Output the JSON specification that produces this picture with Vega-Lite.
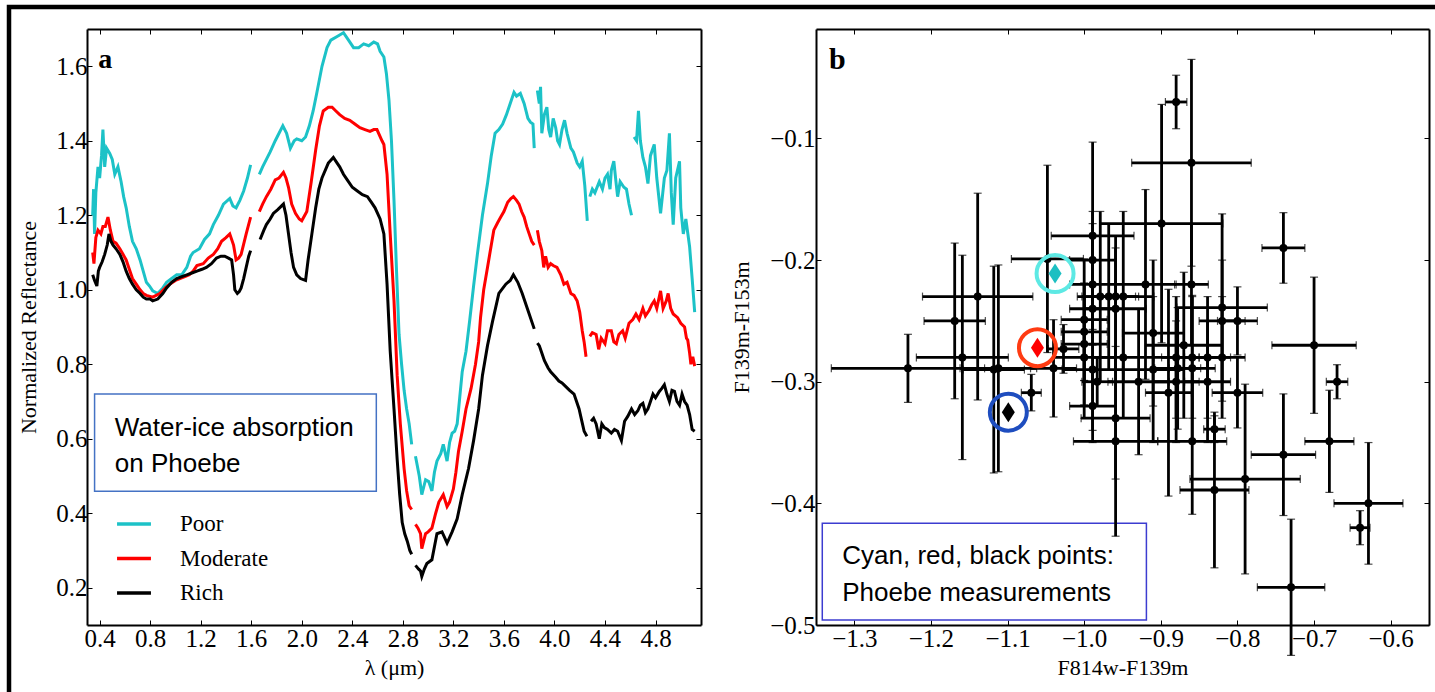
{
"$schema":"https://vega.github.io/schema/vega-lite/v6.json",
"width":1426,"height":685,
"autosize":{"type":"none"},
"padding":{"left":9,"top":7,"right":0,"bottom":0},
"background":"white",
"config":{
 "view":{"stroke":"black","strokeWidth":4.5,"strokeDash":[1426,2111,685]},
 "axis":{"labelFont":"Liberation Serif","labelFontSize":25,"labelColor":"black","titleFont":"Liberation Serif","titleFontSize":22,"titleFontWeight":"normal","titleColor":"black","domainColor":"black","domainWidth":2,"tickColor":"black","tickWidth":1,"tickSize":-5,"grid":false,"labelFlush":false,"labelOverlap":false},
 "legend":{"labelFont":"Liberation Serif","labelFontSize":23,"labelColor":"black"}
},
"datasets":{
"spectra":[
{"sample":"Poor","seg":1,"wl":0.345,"refl":1.20},{"sample":"Poor","seg":1,"wl":0.352,"refl":1.27},{"sample":"Poor","seg":1,"wl":0.36,"refl":1.15},{"sample":"Poor","seg":1,"wl":0.37,"refl":1.26},{"sample":"Poor","seg":1,"wl":0.387,"refl":1.33},{"sample":"Poor","seg":1,"wl":0.40,"refl":1.30},{"sample":"Poor","seg":1,"wl":0.415,"refl":1.36},{"sample":"Poor","seg":1,"wl":0.426,"refl":1.43},{"sample":"Poor","seg":1,"wl":0.44,"refl":1.33},{"sample":"Poor","seg":1,"wl":0.455,"refl":1.38},{"sample":"Poor","seg":1,"wl":0.48,"refl":1.366},{"sample":"Poor","seg":1,"wl":0.50,"refl":1.35},{"sample":"Poor","seg":1,"wl":0.52,"refl":1.31},{"sample":"Poor","seg":1,"wl":0.545,"refl":1.33},{"sample":"Poor","seg":1,"wl":0.57,"refl":1.29},{"sample":"Poor","seg":1,"wl":0.59,"refl":1.25},{"sample":"Poor","seg":1,"wl":0.61,"refl":1.22},{"sample":"Poor","seg":1,"wl":0.635,"refl":1.17},{"sample":"Poor","seg":1,"wl":0.66,"refl":1.13},{"sample":"Poor","seg":1,"wl":0.69,"refl":1.11},{"sample":"Poor","seg":1,"wl":0.72,"refl":1.08},{"sample":"Poor","seg":1,"wl":0.745,"refl":1.05},{"sample":"Poor","seg":1,"wl":0.77,"refl":1.02},{"sample":"Poor","seg":1,"wl":0.795,"refl":1.01},{"sample":"Poor","seg":1,"wl":0.82,"refl":0.997},{"sample":"Poor","seg":1,"wl":0.86,"refl":0.99},{"sample":"Poor","seg":1,"wl":0.90,"refl":1.005},{"sample":"Poor","seg":1,"wl":0.93,"refl":1.02},{"sample":"Poor","seg":1,"wl":0.97,"refl":1.03},{"sample":"Poor","seg":1,"wl":1.01,"refl":1.04},{"sample":"Poor","seg":1,"wl":1.05,"refl":1.04},{"sample":"Poor","seg":1,"wl":1.09,"refl":1.06},{"sample":"Poor","seg":1,"wl":1.12,"refl":1.09},{"sample":"Poor","seg":1,"wl":1.14,"refl":1.10},{"sample":"Poor","seg":1,"wl":1.19,"refl":1.11},{"sample":"Poor","seg":1,"wl":1.23,"refl":1.135},{"sample":"Poor","seg":1,"wl":1.27,"refl":1.15},{"sample":"Poor","seg":1,"wl":1.30,"refl":1.175},{"sample":"Poor","seg":1,"wl":1.34,"refl":1.20},{"sample":"Poor","seg":1,"wl":1.38,"refl":1.23},{"sample":"Poor","seg":1,"wl":1.43,"refl":1.245},{"sample":"Poor","seg":1,"wl":1.455,"refl":1.225},{"sample":"Poor","seg":1,"wl":1.48,"refl":1.22},{"sample":"Poor","seg":1,"wl":1.51,"refl":1.24},{"sample":"Poor","seg":1,"wl":1.54,"refl":1.265},{"sample":"Poor","seg":1,"wl":1.57,"refl":1.30},{"sample":"Poor","seg":1,"wl":1.595,"refl":1.335},
{"sample":"Poor","seg":2,"wl":1.664,"refl":1.31},{"sample":"Poor","seg":2,"wl":1.69,"refl":1.33},{"sample":"Poor","seg":2,"wl":1.72,"refl":1.35},{"sample":"Poor","seg":2,"wl":1.75,"refl":1.37},{"sample":"Poor","seg":2,"wl":1.79,"refl":1.40},{"sample":"Poor","seg":2,"wl":1.82,"refl":1.42},{"sample":"Poor","seg":2,"wl":1.85,"refl":1.44},{"sample":"Poor","seg":2,"wl":1.88,"refl":1.42},{"sample":"Poor","seg":2,"wl":1.91,"refl":1.38},{"sample":"Poor","seg":2,"wl":1.94,"refl":1.40},{"sample":"Poor","seg":2,"wl":1.96,"refl":1.405},{"sample":"Poor","seg":2,"wl":2.00,"refl":1.40},{"sample":"Poor","seg":2,"wl":2.03,"refl":1.41},{"sample":"Poor","seg":2,"wl":2.06,"refl":1.44},{"sample":"Poor","seg":2,"wl":2.09,"refl":1.48},{"sample":"Poor","seg":2,"wl":2.12,"refl":1.53},{"sample":"Poor","seg":2,"wl":2.16,"refl":1.60},{"sample":"Poor","seg":2,"wl":2.20,"refl":1.65},{"sample":"Poor","seg":2,"wl":2.23,"refl":1.67},{"sample":"Poor","seg":2,"wl":2.28,"refl":1.68},{"sample":"Poor","seg":2,"wl":2.33,"refl":1.69},{"sample":"Poor","seg":2,"wl":2.37,"refl":1.67},{"sample":"Poor","seg":2,"wl":2.41,"refl":1.65},{"sample":"Poor","seg":2,"wl":2.45,"refl":1.65},{"sample":"Poor","seg":2,"wl":2.49,"refl":1.66},{"sample":"Poor","seg":2,"wl":2.53,"refl":1.655},{"sample":"Poor","seg":2,"wl":2.57,"refl":1.665},{"sample":"Poor","seg":2,"wl":2.60,"refl":1.66},{"sample":"Poor","seg":2,"wl":2.62,"refl":1.64},{"sample":"Poor","seg":2,"wl":2.65,"refl":1.625},{"sample":"Poor","seg":2,"wl":2.67,"refl":1.58},{"sample":"Poor","seg":2,"wl":2.69,"refl":1.51},{"sample":"Poor","seg":2,"wl":2.71,"refl":1.40},{"sample":"Poor","seg":2,"wl":2.73,"refl":1.24},{"sample":"Poor","seg":2,"wl":2.75,"refl":1.05},{"sample":"Poor","seg":2,"wl":2.77,"refl":0.88},{"sample":"Poor","seg":2,"wl":2.79,"refl":0.80},{"sample":"Poor","seg":2,"wl":2.81,"refl":0.73},{"sample":"Poor","seg":2,"wl":2.83,"refl":0.68},{"sample":"Poor","seg":2,"wl":2.85,"refl":0.64},{"sample":"Poor","seg":2,"wl":2.87,"refl":0.585},
{"sample":"Poor","seg":3,"wl":2.90,"refl":0.553},{"sample":"Poor","seg":3,"wl":2.93,"refl":0.50},{"sample":"Poor","seg":3,"wl":2.95,"refl":0.45},{"sample":"Poor","seg":3,"wl":2.98,"refl":0.49},{"sample":"Poor","seg":3,"wl":3.005,"refl":0.485},{"sample":"Poor","seg":3,"wl":3.03,"refl":0.46},{"sample":"Poor","seg":3,"wl":3.05,"refl":0.51},{"sample":"Poor","seg":3,"wl":3.07,"refl":0.54},{"sample":"Poor","seg":3,"wl":3.10,"refl":0.56},{"sample":"Poor","seg":3,"wl":3.12,"refl":0.585},{"sample":"Poor","seg":3,"wl":3.15,"refl":0.54},{"sample":"Poor","seg":3,"wl":3.17,"refl":0.59},{"sample":"Poor","seg":3,"wl":3.19,"refl":0.615},{"sample":"Poor","seg":3,"wl":3.21,"refl":0.62},{"sample":"Poor","seg":3,"wl":3.23,"refl":0.64},{"sample":"Poor","seg":3,"wl":3.25,"refl":0.71},{"sample":"Poor","seg":3,"wl":3.27,"refl":0.78},{"sample":"Poor","seg":3,"wl":3.30,"refl":0.835},{"sample":"Poor","seg":3,"wl":3.33,"refl":0.92},{"sample":"Poor","seg":3,"wl":3.36,"refl":1.01},{"sample":"Poor","seg":3,"wl":3.39,"refl":1.095},{"sample":"Poor","seg":3,"wl":3.43,"refl":1.20},{"sample":"Poor","seg":3,"wl":3.47,"refl":1.285},{"sample":"Poor","seg":3,"wl":3.50,"refl":1.36},{"sample":"Poor","seg":3,"wl":3.53,"refl":1.42},{"sample":"Poor","seg":3,"wl":3.56,"refl":1.43},{"sample":"Poor","seg":3,"wl":3.59,"refl":1.445},{"sample":"Poor","seg":3,"wl":3.62,"refl":1.47},{"sample":"Poor","seg":3,"wl":3.64,"refl":1.49},{"sample":"Poor","seg":3,"wl":3.66,"refl":1.51},{"sample":"Poor","seg":3,"wl":3.68,"refl":1.53},{"sample":"Poor","seg":3,"wl":3.70,"refl":1.52},{"sample":"Poor","seg":3,"wl":3.73,"refl":1.527},{"sample":"Poor","seg":3,"wl":3.76,"refl":1.50},{"sample":"Poor","seg":3,"wl":3.79,"refl":1.46},{"sample":"Poor","seg":3,"wl":3.81,"refl":1.45},{"sample":"Poor","seg":3,"wl":3.83,"refl":1.445},{"sample":"Poor","seg":3,"wl":3.84,"refl":1.38},
{"sample":"Poor","seg":4,"wl":3.865,"refl":1.535},{"sample":"Poor","seg":4,"wl":3.88,"refl":1.50},{"sample":"Poor","seg":4,"wl":3.89,"refl":1.545},{"sample":"Poor","seg":4,"wl":3.90,"refl":1.42},{"sample":"Poor","seg":4,"wl":3.92,"refl":1.47},{"sample":"Poor","seg":4,"wl":3.94,"refl":1.49},{"sample":"Poor","seg":4,"wl":3.955,"refl":1.43},{"sample":"Poor","seg":4,"wl":3.97,"refl":1.41},{"sample":"Poor","seg":4,"wl":3.99,"refl":1.46},{"sample":"Poor","seg":4,"wl":4.01,"refl":1.435},{"sample":"Poor","seg":4,"wl":4.025,"refl":1.40},{"sample":"Poor","seg":4,"wl":4.04,"refl":1.39},{"sample":"Poor","seg":4,"wl":4.06,"refl":1.43},{"sample":"Poor","seg":4,"wl":4.08,"refl":1.455},{"sample":"Poor","seg":4,"wl":4.10,"refl":1.42},{"sample":"Poor","seg":4,"wl":4.13,"refl":1.38},{"sample":"Poor","seg":4,"wl":4.15,"refl":1.37},{"sample":"Poor","seg":4,"wl":4.18,"refl":1.34},{"sample":"Poor","seg":4,"wl":4.20,"refl":1.33},{"sample":"Poor","seg":4,"wl":4.22,"refl":1.345},{"sample":"Poor","seg":4,"wl":4.24,"refl":1.28},{"sample":"Poor","seg":4,"wl":4.26,"refl":1.185},
{"sample":"Poor","seg":5,"wl":4.28,"refl":1.25},{"sample":"Poor","seg":5,"wl":4.30,"refl":1.27},{"sample":"Poor","seg":5,"wl":4.32,"refl":1.26},{"sample":"Poor","seg":5,"wl":4.355,"refl":1.29},{"sample":"Poor","seg":5,"wl":4.38,"refl":1.27},{"sample":"Poor","seg":5,"wl":4.40,"refl":1.30},{"sample":"Poor","seg":5,"wl":4.42,"refl":1.31},{"sample":"Poor","seg":5,"wl":4.44,"refl":1.27},{"sample":"Poor","seg":5,"wl":4.45,"refl":1.32},{"sample":"Poor","seg":5,"wl":4.47,"refl":1.345},{"sample":"Poor","seg":5,"wl":4.49,"refl":1.28},{"sample":"Poor","seg":5,"wl":4.50,"refl":1.25},{"sample":"Poor","seg":5,"wl":4.52,"refl":1.29},{"sample":"Poor","seg":5,"wl":4.55,"refl":1.275},{"sample":"Poor","seg":5,"wl":4.57,"refl":1.27},{"sample":"Poor","seg":5,"wl":4.59,"refl":1.23},{"sample":"Poor","seg":5,"wl":4.61,"refl":1.20},
{"sample":"Poor","seg":6,"wl":4.63,"refl":1.41},{"sample":"Poor","seg":6,"wl":4.65,"refl":1.40},{"sample":"Poor","seg":6,"wl":4.665,"refl":1.48},{"sample":"Poor","seg":6,"wl":4.68,"refl":1.40},{"sample":"Poor","seg":6,"wl":4.70,"refl":1.355},{"sample":"Poor","seg":6,"wl":4.72,"refl":1.33},{"sample":"Poor","seg":6,"wl":4.74,"refl":1.285},{"sample":"Poor","seg":6,"wl":4.76,"refl":1.36},{"sample":"Poor","seg":6,"wl":4.79,"refl":1.39},{"sample":"Poor","seg":6,"wl":4.81,"refl":1.30},{"sample":"Poor","seg":6,"wl":4.84,"refl":1.205},{"sample":"Poor","seg":6,"wl":4.87,"refl":1.30},{"sample":"Poor","seg":6,"wl":4.89,"refl":1.32},{"sample":"Poor","seg":6,"wl":4.91,"refl":1.42},{"sample":"Poor","seg":6,"wl":4.925,"refl":1.26},{"sample":"Poor","seg":6,"wl":4.94,"refl":1.175},{"sample":"Poor","seg":6,"wl":4.96,"refl":1.30},{"sample":"Poor","seg":6,"wl":4.99,"refl":1.345},{"sample":"Poor","seg":6,"wl":5.00,"refl":1.22},{"sample":"Poor","seg":6,"wl":5.02,"refl":1.15},{"sample":"Poor","seg":6,"wl":5.04,"refl":1.19},{"sample":"Poor","seg":6,"wl":5.07,"refl":1.115},{"sample":"Poor","seg":6,"wl":5.09,"refl":1.03},{"sample":"Poor","seg":6,"wl":5.11,"refl":0.94},
{"sample":"Moderate","seg":1,"wl":0.345,"refl":1.10},{"sample":"Moderate","seg":1,"wl":0.355,"refl":1.07},{"sample":"Moderate","seg":1,"wl":0.37,"refl":1.14},{"sample":"Moderate","seg":1,"wl":0.387,"refl":1.16},{"sample":"Moderate","seg":1,"wl":0.41,"refl":1.15},{"sample":"Moderate","seg":1,"wl":0.426,"refl":1.17},{"sample":"Moderate","seg":1,"wl":0.445,"refl":1.17},{"sample":"Moderate","seg":1,"wl":0.466,"refl":1.195},{"sample":"Moderate","seg":1,"wl":0.485,"refl":1.16},{"sample":"Moderate","seg":1,"wl":0.506,"refl":1.13},{"sample":"Moderate","seg":1,"wl":0.53,"refl":1.125},{"sample":"Moderate","seg":1,"wl":0.56,"refl":1.11},{"sample":"Moderate","seg":1,"wl":0.585,"refl":1.095},{"sample":"Moderate","seg":1,"wl":0.61,"refl":1.08},{"sample":"Moderate","seg":1,"wl":0.635,"refl":1.055},{"sample":"Moderate","seg":1,"wl":0.66,"refl":1.03},{"sample":"Moderate","seg":1,"wl":0.69,"refl":1.015},{"sample":"Moderate","seg":1,"wl":0.72,"refl":1.00},{"sample":"Moderate","seg":1,"wl":0.745,"refl":0.99},{"sample":"Moderate","seg":1,"wl":0.77,"refl":0.985},{"sample":"Moderate","seg":1,"wl":0.82,"refl":0.98},{"sample":"Moderate","seg":1,"wl":0.876,"refl":0.99},{"sample":"Moderate","seg":1,"wl":0.92,"refl":1.005},{"sample":"Moderate","seg":1,"wl":0.955,"refl":1.015},{"sample":"Moderate","seg":1,"wl":1.00,"refl":1.025},{"sample":"Moderate","seg":1,"wl":1.035,"refl":1.03},{"sample":"Moderate","seg":1,"wl":1.075,"refl":1.035},{"sample":"Moderate","seg":1,"wl":1.11,"refl":1.04},{"sample":"Moderate","seg":1,"wl":1.14,"refl":1.05},{"sample":"Moderate","seg":1,"wl":1.17,"refl":1.065},{"sample":"Moderate","seg":1,"wl":1.22,"refl":1.07},{"sample":"Moderate","seg":1,"wl":1.26,"refl":1.085},{"sample":"Moderate","seg":1,"wl":1.30,"refl":1.095},{"sample":"Moderate","seg":1,"wl":1.335,"refl":1.11},{"sample":"Moderate","seg":1,"wl":1.365,"refl":1.13},{"sample":"Moderate","seg":1,"wl":1.40,"refl":1.14},{"sample":"Moderate","seg":1,"wl":1.43,"refl":1.15},{"sample":"Moderate","seg":1,"wl":1.46,"refl":1.12},{"sample":"Moderate","seg":1,"wl":1.48,"refl":1.08},{"sample":"Moderate","seg":1,"wl":1.50,"refl":1.085},{"sample":"Moderate","seg":1,"wl":1.52,"refl":1.095},{"sample":"Moderate","seg":1,"wl":1.56,"refl":1.15},{"sample":"Moderate","seg":1,"wl":1.595,"refl":1.195},
{"sample":"Moderate","seg":2,"wl":1.664,"refl":1.21},{"sample":"Moderate","seg":2,"wl":1.69,"refl":1.23},{"sample":"Moderate","seg":2,"wl":1.72,"refl":1.25},{"sample":"Moderate","seg":2,"wl":1.755,"refl":1.27},{"sample":"Moderate","seg":2,"wl":1.79,"refl":1.295},{"sample":"Moderate","seg":2,"wl":1.82,"refl":1.30},{"sample":"Moderate","seg":2,"wl":1.855,"refl":1.315},{"sample":"Moderate","seg":2,"wl":1.875,"refl":1.30},{"sample":"Moderate","seg":2,"wl":1.895,"refl":1.275},{"sample":"Moderate","seg":2,"wl":1.92,"refl":1.23},{"sample":"Moderate","seg":2,"wl":1.95,"refl":1.205},{"sample":"Moderate","seg":2,"wl":1.98,"refl":1.19},{"sample":"Moderate","seg":2,"wl":2.00,"refl":1.185},{"sample":"Moderate","seg":2,"wl":2.04,"refl":1.21},{"sample":"Moderate","seg":2,"wl":2.075,"refl":1.29},{"sample":"Moderate","seg":2,"wl":2.11,"refl":1.375},{"sample":"Moderate","seg":2,"wl":2.14,"refl":1.44},{"sample":"Moderate","seg":2,"wl":2.17,"refl":1.48},{"sample":"Moderate","seg":2,"wl":2.21,"refl":1.49},{"sample":"Moderate","seg":2,"wl":2.24,"refl":1.49},{"sample":"Moderate","seg":2,"wl":2.27,"refl":1.48},{"sample":"Moderate","seg":2,"wl":2.30,"refl":1.47},{"sample":"Moderate","seg":2,"wl":2.34,"refl":1.46},{"sample":"Moderate","seg":2,"wl":2.38,"refl":1.455},{"sample":"Moderate","seg":2,"wl":2.42,"refl":1.445},{"sample":"Moderate","seg":2,"wl":2.46,"refl":1.435},{"sample":"Moderate","seg":2,"wl":2.50,"refl":1.43},{"sample":"Moderate","seg":2,"wl":2.54,"refl":1.425},{"sample":"Moderate","seg":2,"wl":2.57,"refl":1.43},{"sample":"Moderate","seg":2,"wl":2.595,"refl":1.43},{"sample":"Moderate","seg":2,"wl":2.635,"refl":1.40},{"sample":"Moderate","seg":2,"wl":2.65,"refl":1.39},{"sample":"Moderate","seg":2,"wl":2.675,"refl":1.31},{"sample":"Moderate","seg":2,"wl":2.70,"refl":1.15},{"sample":"Moderate","seg":2,"wl":2.73,"refl":0.97},{"sample":"Moderate","seg":2,"wl":2.755,"refl":0.77},{"sample":"Moderate","seg":2,"wl":2.78,"refl":0.64},{"sample":"Moderate","seg":2,"wl":2.81,"refl":0.52},{"sample":"Moderate","seg":2,"wl":2.83,"refl":0.46},{"sample":"Moderate","seg":2,"wl":2.85,"refl":0.42},{"sample":"Moderate","seg":2,"wl":2.87,"refl":0.41},
{"sample":"Moderate","seg":3,"wl":2.90,"refl":0.37},{"sample":"Moderate","seg":3,"wl":2.92,"refl":0.36},{"sample":"Moderate","seg":3,"wl":2.94,"refl":0.345},{"sample":"Moderate","seg":3,"wl":2.95,"refl":0.305},{"sample":"Moderate","seg":3,"wl":2.98,"refl":0.345},{"sample":"Moderate","seg":3,"wl":3.00,"refl":0.35},{"sample":"Moderate","seg":3,"wl":3.03,"refl":0.36},{"sample":"Moderate","seg":3,"wl":3.06,"refl":0.40},{"sample":"Moderate","seg":3,"wl":3.085,"refl":0.43},{"sample":"Moderate","seg":3,"wl":3.12,"refl":0.45},{"sample":"Moderate","seg":3,"wl":3.15,"refl":0.418},{"sample":"Moderate","seg":3,"wl":3.17,"refl":0.43},{"sample":"Moderate","seg":3,"wl":3.20,"refl":0.465},{"sample":"Moderate","seg":3,"wl":3.22,"refl":0.51},{"sample":"Moderate","seg":3,"wl":3.24,"refl":0.565},{"sample":"Moderate","seg":3,"wl":3.27,"refl":0.62},{"sample":"Moderate","seg":3,"wl":3.30,"refl":0.68},{"sample":"Moderate","seg":3,"wl":3.34,"refl":0.735},{"sample":"Moderate","seg":3,"wl":3.375,"refl":0.80},{"sample":"Moderate","seg":3,"wl":3.40,"refl":0.86},{"sample":"Moderate","seg":3,"wl":3.415,"refl":0.925},{"sample":"Moderate","seg":3,"wl":3.44,"refl":1.00},{"sample":"Moderate","seg":3,"wl":3.47,"refl":1.06},{"sample":"Moderate","seg":3,"wl":3.50,"refl":1.12},{"sample":"Moderate","seg":3,"wl":3.52,"refl":1.16},{"sample":"Moderate","seg":3,"wl":3.55,"refl":1.18},{"sample":"Moderate","seg":3,"wl":3.575,"refl":1.195},{"sample":"Moderate","seg":3,"wl":3.60,"refl":1.21},{"sample":"Moderate","seg":3,"wl":3.63,"refl":1.235},{"sample":"Moderate","seg":3,"wl":3.655,"refl":1.245},{"sample":"Moderate","seg":3,"wl":3.675,"refl":1.25},{"sample":"Moderate","seg":3,"wl":3.70,"refl":1.24},{"sample":"Moderate","seg":3,"wl":3.72,"refl":1.23},{"sample":"Moderate","seg":3,"wl":3.74,"refl":1.21},{"sample":"Moderate","seg":3,"wl":3.76,"refl":1.195},{"sample":"Moderate","seg":3,"wl":3.78,"refl":1.17},{"sample":"Moderate","seg":3,"wl":3.80,"refl":1.15},{"sample":"Moderate","seg":3,"wl":3.82,"refl":1.13},{"sample":"Moderate","seg":3,"wl":3.84,"refl":1.12},
{"sample":"Moderate","seg":4,"wl":3.865,"refl":1.16},{"sample":"Moderate","seg":4,"wl":3.88,"refl":1.13},{"sample":"Moderate","seg":4,"wl":3.90,"refl":1.105},{"sample":"Moderate","seg":4,"wl":3.915,"refl":1.06},{"sample":"Moderate","seg":4,"wl":3.93,"refl":1.09},{"sample":"Moderate","seg":4,"wl":3.95,"refl":1.06},{"sample":"Moderate","seg":4,"wl":3.97,"refl":1.07},{"sample":"Moderate","seg":4,"wl":3.99,"refl":1.065},{"sample":"Moderate","seg":4,"wl":4.02,"refl":1.06},{"sample":"Moderate","seg":4,"wl":4.05,"refl":1.04},{"sample":"Moderate","seg":4,"wl":4.075,"refl":1.015},{"sample":"Moderate","seg":4,"wl":4.10,"refl":1.02},{"sample":"Moderate","seg":4,"wl":4.13,"refl":0.99},{"sample":"Moderate","seg":4,"wl":4.155,"refl":0.985},{"sample":"Moderate","seg":4,"wl":4.18,"refl":0.97},{"sample":"Moderate","seg":4,"wl":4.20,"refl":0.94},{"sample":"Moderate","seg":4,"wl":4.22,"refl":0.89},{"sample":"Moderate","seg":4,"wl":4.235,"refl":0.86},{"sample":"Moderate","seg":4,"wl":4.25,"refl":0.82},
{"sample":"Moderate","seg":5,"wl":4.28,"refl":0.875},{"sample":"Moderate","seg":5,"wl":4.30,"refl":0.885},{"sample":"Moderate","seg":5,"wl":4.33,"refl":0.88},{"sample":"Moderate","seg":5,"wl":4.35,"refl":0.84},{"sample":"Moderate","seg":5,"wl":4.37,"refl":0.87},{"sample":"Moderate","seg":5,"wl":4.40,"refl":0.855},{"sample":"Moderate","seg":5,"wl":4.42,"refl":0.89},{"sample":"Moderate","seg":5,"wl":4.45,"refl":0.89},{"sample":"Moderate","seg":5,"wl":4.47,"refl":0.86},{"sample":"Moderate","seg":5,"wl":4.49,"refl":0.855},{"sample":"Moderate","seg":5,"wl":4.51,"refl":0.88},{"sample":"Moderate","seg":5,"wl":4.54,"refl":0.89},{"sample":"Moderate","seg":5,"wl":4.56,"refl":0.87},{"sample":"Moderate","seg":5,"wl":4.59,"refl":0.91},{"sample":"Moderate","seg":5,"wl":4.62,"refl":0.92},{"sample":"Moderate","seg":5,"wl":4.645,"refl":0.935},{"sample":"Moderate","seg":5,"wl":4.67,"refl":0.92},{"sample":"Moderate","seg":5,"wl":4.70,"refl":0.95},{"sample":"Moderate","seg":5,"wl":4.72,"refl":0.93},{"sample":"Moderate","seg":5,"wl":4.75,"refl":0.945},{"sample":"Moderate","seg":5,"wl":4.77,"refl":0.96},{"sample":"Moderate","seg":5,"wl":4.79,"refl":0.97},{"sample":"Moderate","seg":5,"wl":4.81,"refl":0.95},{"sample":"Moderate","seg":5,"wl":4.84,"refl":0.997},{"sample":"Moderate","seg":5,"wl":4.86,"refl":0.95},{"sample":"Moderate","seg":5,"wl":4.885,"refl":0.97},{"sample":"Moderate","seg":5,"wl":4.90,"refl":0.99},{"sample":"Moderate","seg":5,"wl":4.92,"refl":0.95},{"sample":"Moderate","seg":5,"wl":4.94,"refl":0.935},{"sample":"Moderate","seg":5,"wl":4.975,"refl":0.925},{"sample":"Moderate","seg":5,"wl":5.00,"refl":0.91},{"sample":"Moderate","seg":5,"wl":5.03,"refl":0.90},{"sample":"Moderate","seg":5,"wl":5.045,"refl":0.87},{"sample":"Moderate","seg":5,"wl":5.055,"refl":0.865},{"sample":"Moderate","seg":5,"wl":5.07,"refl":0.83},{"sample":"Moderate","seg":5,"wl":5.08,"refl":0.80},{"sample":"Moderate","seg":5,"wl":5.095,"refl":0.82},{"sample":"Moderate","seg":5,"wl":5.11,"refl":0.795},
{"sample":"Rich","seg":1,"wl":0.345,"refl":1.04},{"sample":"Rich","seg":1,"wl":0.36,"refl":1.025},{"sample":"Rich","seg":1,"wl":0.378,"refl":1.01},{"sample":"Rich","seg":1,"wl":0.39,"refl":1.05},{"sample":"Rich","seg":1,"wl":0.40,"refl":1.06},{"sample":"Rich","seg":1,"wl":0.42,"refl":1.075},{"sample":"Rich","seg":1,"wl":0.44,"refl":1.095},{"sample":"Rich","seg":1,"wl":0.46,"refl":1.12},{"sample":"Rich","seg":1,"wl":0.474,"refl":1.15},{"sample":"Rich","seg":1,"wl":0.49,"refl":1.13},{"sample":"Rich","seg":1,"wl":0.506,"refl":1.12},{"sample":"Rich","seg":1,"wl":0.53,"refl":1.11},{"sample":"Rich","seg":1,"wl":0.56,"refl":1.095},{"sample":"Rich","seg":1,"wl":0.585,"refl":1.075},{"sample":"Rich","seg":1,"wl":0.61,"refl":1.05},{"sample":"Rich","seg":1,"wl":0.635,"refl":1.03},{"sample":"Rich","seg":1,"wl":0.66,"refl":1.015},{"sample":"Rich","seg":1,"wl":0.69,"refl":1.00},{"sample":"Rich","seg":1,"wl":0.72,"refl":0.99},{"sample":"Rich","seg":1,"wl":0.745,"refl":0.98},{"sample":"Rich","seg":1,"wl":0.77,"refl":0.975},{"sample":"Rich","seg":1,"wl":0.80,"refl":0.975},{"sample":"Rich","seg":1,"wl":0.82,"refl":0.97},{"sample":"Rich","seg":1,"wl":0.86,"refl":0.975},{"sample":"Rich","seg":1,"wl":0.90,"refl":0.99},{"sample":"Rich","seg":1,"wl":0.93,"refl":1.005},{"sample":"Rich","seg":1,"wl":0.97,"refl":1.02},{"sample":"Rich","seg":1,"wl":1.01,"refl":1.03},{"sample":"Rich","seg":1,"wl":1.05,"refl":1.035},{"sample":"Rich","seg":1,"wl":1.09,"refl":1.04},{"sample":"Rich","seg":1,"wl":1.13,"refl":1.045},{"sample":"Rich","seg":1,"wl":1.17,"refl":1.05},{"sample":"Rich","seg":1,"wl":1.21,"refl":1.055},{"sample":"Rich","seg":1,"wl":1.245,"refl":1.06},{"sample":"Rich","seg":1,"wl":1.285,"refl":1.07},{"sample":"Rich","seg":1,"wl":1.325,"refl":1.085},{"sample":"Rich","seg":1,"wl":1.36,"refl":1.09},{"sample":"Rich","seg":1,"wl":1.39,"refl":1.09},{"sample":"Rich","seg":1,"wl":1.42,"refl":1.085},{"sample":"Rich","seg":1,"wl":1.445,"refl":1.08},{"sample":"Rich","seg":1,"wl":1.46,"refl":1.04},{"sample":"Rich","seg":1,"wl":1.47,"refl":1.00},{"sample":"Rich","seg":1,"wl":1.49,"refl":0.99},{"sample":"Rich","seg":1,"wl":1.505,"refl":0.995},{"sample":"Rich","seg":1,"wl":1.52,"refl":1.005},{"sample":"Rich","seg":1,"wl":1.54,"refl":1.03},{"sample":"Rich","seg":1,"wl":1.56,"refl":1.06},{"sample":"Rich","seg":1,"wl":1.58,"refl":1.09},{"sample":"Rich","seg":1,"wl":1.595,"refl":1.105},
{"sample":"Rich","seg":2,"wl":1.67,"refl":1.135},{"sample":"Rich","seg":2,"wl":1.70,"refl":1.16},{"sample":"Rich","seg":2,"wl":1.72,"refl":1.175},{"sample":"Rich","seg":2,"wl":1.75,"refl":1.19},{"sample":"Rich","seg":2,"wl":1.775,"refl":1.205},{"sample":"Rich","seg":2,"wl":1.81,"refl":1.215},{"sample":"Rich","seg":2,"wl":1.855,"refl":1.23},{"sample":"Rich","seg":2,"wl":1.875,"refl":1.20},{"sample":"Rich","seg":2,"wl":1.895,"refl":1.15},{"sample":"Rich","seg":2,"wl":1.915,"refl":1.10},{"sample":"Rich","seg":2,"wl":1.935,"refl":1.06},{"sample":"Rich","seg":2,"wl":1.96,"refl":1.04},{"sample":"Rich","seg":2,"wl":1.99,"refl":1.03},{"sample":"Rich","seg":2,"wl":2.03,"refl":1.025},{"sample":"Rich","seg":2,"wl":2.05,"refl":1.08},{"sample":"Rich","seg":2,"wl":2.08,"refl":1.15},{"sample":"Rich","seg":2,"wl":2.11,"refl":1.22},{"sample":"Rich","seg":2,"wl":2.135,"refl":1.27},{"sample":"Rich","seg":2,"wl":2.16,"refl":1.30},{"sample":"Rich","seg":2,"wl":2.21,"refl":1.34},{"sample":"Rich","seg":2,"wl":2.25,"refl":1.355},{"sample":"Rich","seg":2,"wl":2.28,"refl":1.34},{"sample":"Rich","seg":2,"wl":2.30,"refl":1.33},{"sample":"Rich","seg":2,"wl":2.33,"refl":1.31},{"sample":"Rich","seg":2,"wl":2.36,"refl":1.295},{"sample":"Rich","seg":2,"wl":2.40,"refl":1.275},{"sample":"Rich","seg":2,"wl":2.44,"refl":1.265},{"sample":"Rich","seg":2,"wl":2.48,"refl":1.255},{"sample":"Rich","seg":2,"wl":2.52,"refl":1.25},{"sample":"Rich","seg":2,"wl":2.55,"refl":1.235},{"sample":"Rich","seg":2,"wl":2.58,"refl":1.22},{"sample":"Rich","seg":2,"wl":2.62,"refl":1.19},{"sample":"Rich","seg":2,"wl":2.65,"refl":1.15},{"sample":"Rich","seg":2,"wl":2.675,"refl":1.015},{"sample":"Rich","seg":2,"wl":2.70,"refl":0.835},{"sample":"Rich","seg":2,"wl":2.73,"refl":0.68},{"sample":"Rich","seg":2,"wl":2.755,"refl":0.545},{"sample":"Rich","seg":2,"wl":2.775,"refl":0.45},{"sample":"Rich","seg":2,"wl":2.795,"refl":0.375},{"sample":"Rich","seg":2,"wl":2.815,"refl":0.345},{"sample":"Rich","seg":2,"wl":2.835,"refl":0.325},{"sample":"Rich","seg":2,"wl":2.855,"refl":0.30},{"sample":"Rich","seg":2,"wl":2.87,"refl":0.29},
{"sample":"Rich","seg":3,"wl":2.90,"refl":0.26},{"sample":"Rich","seg":3,"wl":2.925,"refl":0.25},{"sample":"Rich","seg":3,"wl":2.94,"refl":0.245},{"sample":"Rich","seg":3,"wl":2.95,"refl":0.23},{"sample":"Rich","seg":3,"wl":2.97,"refl":0.25},{"sample":"Rich","seg":3,"wl":2.99,"refl":0.265},{"sample":"Rich","seg":3,"wl":3.03,"refl":0.275},{"sample":"Rich","seg":3,"wl":3.05,"refl":0.31},{"sample":"Rich","seg":3,"wl":3.07,"refl":0.345},{"sample":"Rich","seg":3,"wl":3.11,"refl":0.35},{"sample":"Rich","seg":3,"wl":3.13,"refl":0.335},{"sample":"Rich","seg":3,"wl":3.15,"refl":0.32},{"sample":"Rich","seg":3,"wl":3.19,"refl":0.35},{"sample":"Rich","seg":3,"wl":3.23,"refl":0.385},{"sample":"Rich","seg":3,"wl":3.27,"refl":0.45},{"sample":"Rich","seg":3,"wl":3.32,"refl":0.52},{"sample":"Rich","seg":3,"wl":3.36,"refl":0.595},{"sample":"Rich","seg":3,"wl":3.40,"refl":0.68},{"sample":"Rich","seg":3,"wl":3.43,"refl":0.77},{"sample":"Rich","seg":3,"wl":3.47,"refl":0.85},{"sample":"Rich","seg":3,"wl":3.51,"refl":0.915},{"sample":"Rich","seg":3,"wl":3.56,"refl":0.99},{"sample":"Rich","seg":3,"wl":3.615,"refl":1.015},{"sample":"Rich","seg":3,"wl":3.65,"refl":1.025},{"sample":"Rich","seg":3,"wl":3.675,"refl":1.04},{"sample":"Rich","seg":3,"wl":3.71,"refl":1.02},{"sample":"Rich","seg":3,"wl":3.745,"refl":0.99},{"sample":"Rich","seg":3,"wl":3.79,"refl":0.945},{"sample":"Rich","seg":3,"wl":3.84,"refl":0.895},
{"sample":"Rich","seg":4,"wl":3.865,"refl":0.857},{"sample":"Rich","seg":4,"wl":3.88,"refl":0.85},{"sample":"Rich","seg":4,"wl":3.90,"refl":0.83},{"sample":"Rich","seg":4,"wl":3.92,"refl":0.81},{"sample":"Rich","seg":4,"wl":3.95,"refl":0.79},{"sample":"Rich","seg":4,"wl":3.97,"refl":0.78},{"sample":"Rich","seg":4,"wl":4.01,"refl":0.765},{"sample":"Rich","seg":4,"wl":4.035,"refl":0.755},{"sample":"Rich","seg":4,"wl":4.06,"refl":0.75},{"sample":"Rich","seg":4,"wl":4.09,"refl":0.74},{"sample":"Rich","seg":4,"wl":4.12,"refl":0.73},{"sample":"Rich","seg":4,"wl":4.155,"refl":0.72},{"sample":"Rich","seg":4,"wl":4.175,"refl":0.70},{"sample":"Rich","seg":4,"wl":4.195,"refl":0.68},{"sample":"Rich","seg":4,"wl":4.215,"refl":0.65},{"sample":"Rich","seg":4,"wl":4.235,"refl":0.62},{"sample":"Rich","seg":4,"wl":4.257,"refl":0.607},
{"sample":"Rich","seg":5,"wl":4.29,"refl":0.647},{"sample":"Rich","seg":5,"wl":4.31,"refl":0.655},{"sample":"Rich","seg":5,"wl":4.33,"refl":0.64},{"sample":"Rich","seg":5,"wl":4.355,"refl":0.60},{"sample":"Rich","seg":5,"wl":4.375,"refl":0.64},{"sample":"Rich","seg":5,"wl":4.395,"refl":0.63},{"sample":"Rich","seg":5,"wl":4.42,"refl":0.625},{"sample":"Rich","seg":5,"wl":4.45,"refl":0.615},{"sample":"Rich","seg":5,"wl":4.475,"refl":0.625},{"sample":"Rich","seg":5,"wl":4.50,"refl":0.62},{"sample":"Rich","seg":5,"wl":4.53,"refl":0.595},{"sample":"Rich","seg":5,"wl":4.555,"refl":0.647},{"sample":"Rich","seg":5,"wl":4.58,"refl":0.66},{"sample":"Rich","seg":5,"wl":4.61,"refl":0.68},{"sample":"Rich","seg":5,"wl":4.635,"refl":0.665},{"sample":"Rich","seg":5,"wl":4.66,"refl":0.675},{"sample":"Rich","seg":5,"wl":4.68,"refl":0.69},{"sample":"Rich","seg":5,"wl":4.70,"refl":0.695},{"sample":"Rich","seg":5,"wl":4.72,"refl":0.67},{"sample":"Rich","seg":5,"wl":4.74,"refl":0.68},{"sample":"Rich","seg":5,"wl":4.76,"refl":0.70},{"sample":"Rich","seg":5,"wl":4.78,"refl":0.72},{"sample":"Rich","seg":5,"wl":4.80,"refl":0.71},{"sample":"Rich","seg":5,"wl":4.83,"refl":0.727},{"sample":"Rich","seg":5,"wl":4.85,"refl":0.735},{"sample":"Rich","seg":5,"wl":4.87,"refl":0.745},{"sample":"Rich","seg":5,"wl":4.89,"refl":0.72},{"sample":"Rich","seg":5,"wl":4.91,"refl":0.70},{"sample":"Rich","seg":5,"wl":4.93,"refl":0.73},{"sample":"Rich","seg":5,"wl":4.95,"refl":0.727},{"sample":"Rich","seg":5,"wl":4.97,"refl":0.70},{"sample":"Rich","seg":5,"wl":4.99,"refl":0.69},{"sample":"Rich","seg":5,"wl":5.01,"refl":0.72},{"sample":"Rich","seg":5,"wl":5.03,"refl":0.70},{"sample":"Rich","seg":5,"wl":5.05,"refl":0.69},{"sample":"Rich","seg":5,"wl":5.07,"refl":0.665},{"sample":"Rich","seg":5,"wl":5.09,"refl":0.625},{"sample":"Rich","seg":5,"wl":5.11,"refl":0.62}
],
"colors":[
{"color1":-0.880,"color2":-0.070,"err1":0.014,"err2":0.022},
{"color1":-0.860,"color2":-0.120,"err1":0.078,"err2":0.085},
{"color1":-0.899,"color2":-0.170,"err1":0.080,"err2":0.098},
{"color1":-0.989,"color2":-0.180,"err1":0.054,"err2":0.077},
{"color1":-0.740,"color2":-0.190,"err1":0.028,"err2":0.029},
{"color1":-1.048,"color2":-0.199,"err1":0.047,"err2":0.077},
{"color1":-0.989,"color2":-0.200,"err1":0.030,"err2":0.040},
{"color1":-1.139,"color2":-0.230,"err1":0.072,"err2":0.085},
{"color1":-1.169,"color2":-0.250,"err1":0.040,"err2":0.064},
{"color1":-0.860,"color2":-0.220,"err1":0.022,"err2":0.050},
{"color1":-0.989,"color2":-0.220,"err1":0.030,"err2":0.050},
{"color1":-0.920,"color2":-0.220,"err1":0.040,"err2":0.078},
{"color1":-0.979,"color2":-0.230,"err1":0.030,"err2":0.070},
{"color1":-0.968,"color2":-0.230,"err1":0.035,"err2":0.060},
{"color1":-0.959,"color2":-0.230,"err1":0.030,"err2":0.050},
{"color1":-0.949,"color2":-0.230,"err1":0.040,"err2":0.070},
{"color1":-0.989,"color2":-0.240,"err1":0.030,"err2":0.060},
{"color1":-0.959,"color2":-0.240,"err1":0.040,"err2":0.050},
{"color1":-0.820,"color2":-0.239,"err1":0.059,"err2":0.077},
{"color1":-0.820,"color2":-0.250,"err1":0.030,"err2":0.050},
{"color1":-0.800,"color2":-0.250,"err1":0.026,"err2":0.028},
{"color1":-0.700,"color2":-0.270,"err1":0.055,"err2":0.056},
{"color1":-0.670,"color2":-0.300,"err1":0.014,"err2":0.014},
{"color1":-0.680,"color2":-0.349,"err1":0.032,"err2":0.042},
{"color1":-0.740,"color2":-0.360,"err1":0.042,"err2":0.050},
{"color1":-0.790,"color2":-0.380,"err1":0.072,"err2":0.078},
{"color1":-0.830,"color2":-0.389,"err1":0.045,"err2":0.064},
{"color1":-0.629,"color2":-0.400,"err1":0.045,"err2":0.050},
{"color1":-0.640,"color2":-0.420,"err1":0.013,"err2":0.014},
{"color1":-0.730,"color2":-0.469,"err1":0.044,"err2":0.056},
{"color1":-0.830,"color2":-0.339,"err1":0.014,"err2":0.011},
{"color1":-0.800,"color2":-0.309,"err1":0.033,"err2":0.029},
{"color1":-0.859,"color2":-0.349,"err1":0.045,"err2":0.060},
{"color1":-0.959,"color2":-0.349,"err1":0.055,"err2":0.078},
{"color1":-0.959,"color2":-0.330,"err1":0.045,"err2":0.050},
{"color1":-0.989,"color2":-0.320,"err1":0.030,"err2":0.030},
{"color1":-0.890,"color2":-0.309,"err1":0.030,"err2":0.085},
{"color1":-0.820,"color2":-0.280,"err1":0.030,"err2":0.050},
{"color1":-0.839,"color2":-0.300,"err1":0.030,"err2":0.050},
{"color1":-0.929,"color2":-0.300,"err1":0.040,"err2":0.060},
{"color1":-0.859,"color2":-0.289,"err1":0.030,"err2":0.060},
{"color1":-0.878,"color2":-0.289,"err1":0.030,"err2":0.050},
{"color1":-0.910,"color2":-0.290,"err1":0.040,"err2":0.060},
{"color1":-0.880,"color2":-0.300,"err1":0.030,"err2":0.050},
{"color1":-0.910,"color2":-0.260,"err1":0.040,"err2":0.060},
{"color1":-0.870,"color2":-0.270,"err1":0.050,"err2":0.060},
{"color1":-0.880,"color2":-0.280,"err1":0.030,"err2":0.050},
{"color1":-0.859,"color2":-0.280,"err1":0.040,"err2":0.050},
{"color1":-0.839,"color2":-0.280,"err1":0.030,"err2":0.050},
{"color1":-1.000,"color2":-0.249,"err1":0.030,"err2":0.050},
{"color1":-1.000,"color2":-0.259,"err1":0.030,"err2":0.040},
{"color1":-1.000,"color2":-0.269,"err1":0.030,"err2":0.050},
{"color1":-1.000,"color2":-0.280,"err1":0.040,"err2":0.050},
{"color1":-1.027,"color2":-0.273,"err1":0.020,"err2":0.020},
{"color1":-0.989,"color2":-0.290,"err1":0.040,"err2":0.050},
{"color1":-0.983,"color2":-0.300,"err1":0.020,"err2":0.020},
{"color1":-0.949,"color2":-0.280,"err1":0.040,"err2":0.050},
{"color1":-1.159,"color2":-0.280,"err1":0.060,"err2":0.084},
{"color1":-1.230,"color2":-0.289,"err1":0.100,"err2":0.028},
{"color1":-1.112,"color2":-0.289,"err1":0.050,"err2":0.085},
{"color1":-1.118,"color2":-0.290,"err1":0.040,"err2":0.085},
{"color1":-1.069,"color2":-0.309,"err1":0.013,"err2":0.015},
{"color1":-1.040,"color2":-0.289,"err1":0.030,"err2":0.040}
],
"phoebe":[
{"color1":-1.038,"color2":-0.211,"set":"cyan"},
{"color1":-1.061,"color2":-0.272,"set":"red"},
{"color1":-1.099,"color2":-0.325,"set":"black"}
]
},
"layer":[
{
 "data":{"name":"spectra"},
 "layer":[
  {"data":{"values":[{}]},
   "mark":{"type":"rect","fill":"white","stroke":"#4472C4","strokeWidth":1.5},
   "encoding":{
    "x":{"datum":0.36,"type":"quantitative","scale":{"domain":[0.3,5.16],"range":[78,692],"nice":false,"zero":false},"axis":null},
    "x2":{"datum":2.59},
    "y":{"datum":0.72,"type":"quantitative","scale":{"domain":[0.1,1.7],"range":[618,22],"nice":false,"zero":false},"axis":null},
    "y2":{"datum":0.459}}},
  {"mark":{"type":"line","strokeWidth":3},
   "encoding":{
    "x":{"field":"wl","type":"quantitative","axis":{"orient":"bottom","offset":-67,"values":[0.4,0.8,1.2,1.6,2.0,2.4,2.8,3.2,3.6,4.0,4.4,4.8],"format":".1f","labelFontSize":25,"labelPadding":6,"title":"λ (μm)","titlePadding":6}},
    "y":{"field":"refl","type":"quantitative","axis":{"orient":"left","offset":-78,"values":[0.2,0.4,0.6,0.8,1.0,1.2,1.4,1.6],"format":".1f","labelFontSize":25,"labelPadding":5,"title":"Normalized Reflectance","titlePadding":15}},
    "color":{"field":"sample","type":"nominal","scale":{"domain":["Poor","Moderate","Rich"],"range":["#1CC2C7","#FF0000","#000000"]},
      "legend":{"orient":"none","legendX":106,"legendY":498,"title":null,"symbolType":"stroke","symbolStrokeWidth":3.5,"symbolSize":1150,"labelFont":"Liberation Serif","labelFontSize":23,"labelColor":"black","labelOffset":27,"rowPadding":3.5,"padding":0}},
    "detail":{"field":"seg"}}},
  {"data":{"values":[{}]},
   "mark":{"type":"text","text":"Water-ice absorption","font":"Liberation Sans","fontSize":26,"align":"left","baseline":"alphabetic","color":"black"},
   "encoding":{"x":{"datum":0.52,"type":"quantitative","axis":null},"y":{"datum":0.607,"type":"quantitative","axis":null}}},
  {"data":{"values":[{}]},
   "mark":{"type":"text","text":"on Phoebe","font":"Liberation Sans","fontSize":26,"align":"left","baseline":"alphabetic","color":"black"},
   "encoding":{"x":{"datum":0.52,"type":"quantitative","axis":null},"y":{"datum":0.51,"type":"quantitative","axis":null}}},
  {"data":{"values":[{}]},
   "mark":{"type":"text","text":"a","font":"Liberation Serif","fontWeight":"bold","fontSize":28,"align":"left","baseline":"alphabetic","color":"black"},
   "encoding":{
    "x":{"datum":0.39,"type":"quantitative","axis":{"orient":"top","offset":-22,"values":[0.4,0.8,1.2,1.6,2.0,2.4,2.8,3.2,3.6,4.0,4.4,4.8],"labels":false,"title":null}},
    "y":{"datum":1.595,"type":"quantitative","axis":{"orient":"right","offset":-734,"values":[0.2,0.4,0.6,0.8,1.0,1.2,1.4,1.6],"labels":false,"title":null}}}}
 ],
 "resolve":{"axis":{"x":"independent","y":"independent"}}
},
{
 "data":{"name":"colors"},
 "layer":[
  {"data":{"values":[{}]},
   "mark":{"type":"rect","fill":"white","stroke":"#3C3CD0","strokeWidth":1.5},
   "encoding":{
    "x":{"datum":-1.3418,"type":"quantitative","scale":{"domain":[-1.35,-0.55],"range":[807,1420],"nice":false,"zero":false},"axis":null},
    "x2":{"datum":-0.9188},
    "y":{"datum":-0.4164,"type":"quantitative","scale":{"domain":[-0.5,-0.01],"range":[618,22],"nice":false,"zero":false},"axis":null},
    "y2":{"datum":-0.4959}}},
  {"mark":{"type":"errorbar","rule":{"strokeWidth":2.8,"color":"black"},"ticks":{"thickness":1.2,"size":8,"color":"black"}},
   "encoding":{"x":{"field":"color1","type":"quantitative","axis":null},"xError":{"field":"err1"},"y":{"field":"color2","type":"quantitative","axis":null}}},
  {"mark":{"type":"errorbar","rule":{"strokeWidth":2.8,"color":"black"},"ticks":{"thickness":1.2,"size":8,"color":"black"}},
   "encoding":{"y":{"field":"color2","type":"quantitative","axis":null},"yError":{"field":"err2"},"x":{"field":"color1","type":"quantitative","axis":null}}},
  {"mark":{"type":"point","shape":"circle","filled":true,"size":64,"color":"black","opacity":1},
   "encoding":{
    "x":{"field":"color1","type":"quantitative","axis":{"orient":"bottom","offset":-67,"values":[-1.3,-1.2,-1.1,-1.0,-0.9,-0.8,-0.7,-0.6],"format":".1f","labelFontSize":25,"labelPadding":6,"title":"F814w-F139m","titlePadding":6}},
    "y":{"field":"color2","type":"quantitative","axis":{"orient":"left","offset":-807,"values":[-0.5,-0.4,-0.3,-0.2,-0.1],"format":".1f","labelFontSize":25,"labelPadding":6,"title":"F139m-F153m","titlePadding":16}}}},
  {"data":{"name":"phoebe"},
   "mark":{"type":"point","shape":"M0,-1L0.65,0L0,1L-0.65,0Z","filled":true,"size":400,"opacity":1},
   "encoding":{"x":{"field":"color1","type":"quantitative","axis":null},"y":{"field":"color2","type":"quantitative","axis":null},
    "fill":{"field":"set","type":"nominal","scale":{"domain":["cyan","red","black"],"range":["#1DBFC2","#FF0000","#000000"]},"legend":null}}},
  {"data":{"name":"phoebe"},
   "mark":{"type":"point","shape":"circle","filled":false,"size":1369,"strokeWidth":4,"opacity":1},
   "encoding":{"x":{"field":"color1","type":"quantitative","axis":null},"y":{"field":"color2","type":"quantitative","axis":null},
    "stroke":{"field":"set","type":"nominal","scale":{"domain":["cyan","red","black"],"range":["#5DE9E4","#FF3B12","#1E4DBF"]},"legend":null}}},
  {"data":{"values":[{}]},
   "mark":{"type":"text","text":"Cyan, red, black points:","font":"Liberation Sans","fontSize":26,"align":"left","baseline":"alphabetic","color":"black"},
   "encoding":{"x":{"datum":-1.3157,"type":"quantitative","axis":null},"y":{"datum":-0.450,"type":"quantitative","axis":null}}},
  {"data":{"values":[{}]},
   "mark":{"type":"text","text":"Phoebe measurements","font":"Liberation Sans","fontSize":26,"align":"left","baseline":"alphabetic","color":"black"},
   "encoding":{"x":{"datum":-1.3157,"type":"quantitative","axis":null},"y":{"datum":-0.480,"type":"quantitative","axis":null}}},
  {"data":{"values":[{}]},
   "mark":{"type":"text","text":"b","font":"Liberation Serif","fontWeight":"bold","fontSize":30,"align":"left","baseline":"alphabetic","color":"black"},
   "encoding":{
    "x":{"datum":-1.333,"type":"quantitative","axis":{"orient":"top","offset":-22,"values":[-1.3,-1.2,-1.1,-1.0,-0.9,-0.8,-0.7,-0.6],"labels":false,"title":null}},
    "y":{"datum":-0.0426,"type":"quantitative","axis":{"orient":"right","offset":-6,"values":[-0.5,-0.4,-0.3,-0.2,-0.1],"labels":false,"title":null}}}}
 ],
 "resolve":{"axis":{"x":"independent","y":"independent"}}
}
],
"resolve":{"scale":{"x":"independent","y":"independent"},"axis":{"x":"independent","y":"independent"}}
}
